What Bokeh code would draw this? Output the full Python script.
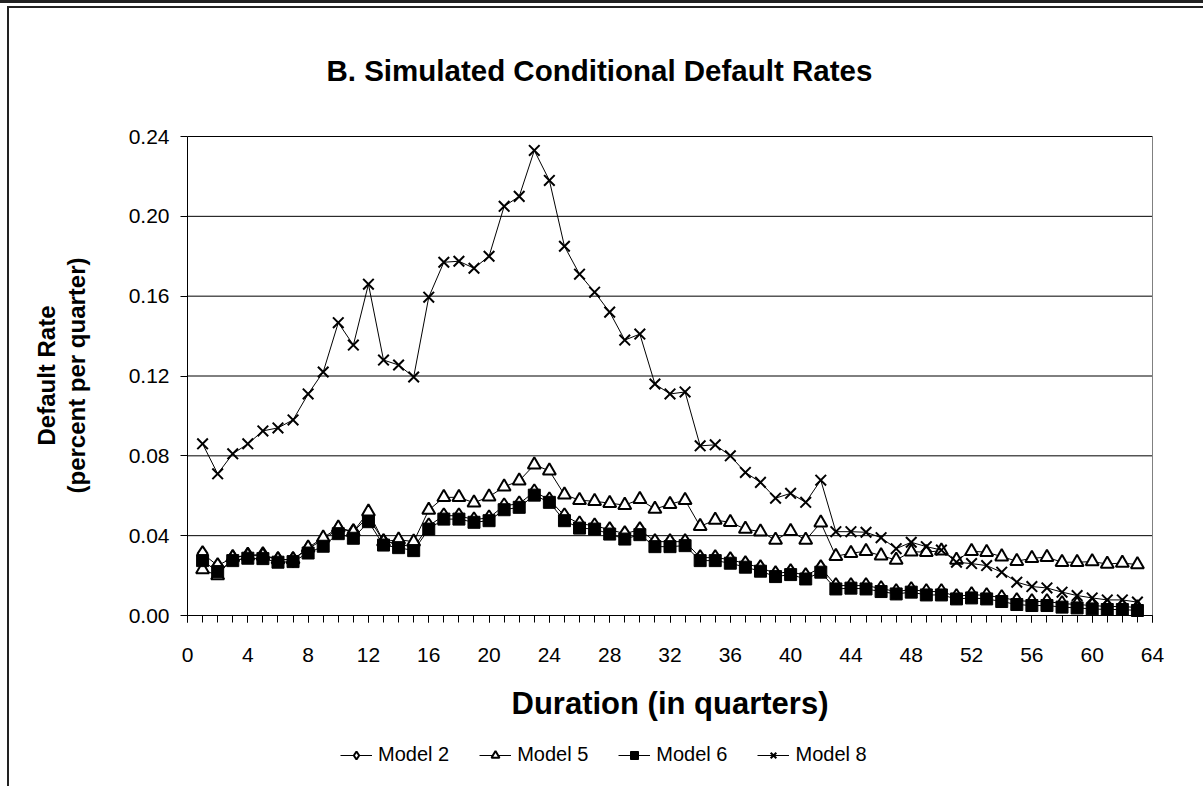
import math
from bokeh.plotting import figure
from bokeh.models import Range1d, FixedTicker, NumeralTickFormatter, Legend, LegendItem, Label
from bokeh.embed import file_html
from bokeh.resources import INLINE

duration = list(range(1, 64))

model2 = [0.031, 0.025, 0.029, 0.0303, 0.0305, 0.028, 0.028, 0.0335, 0.038, 0.0435,
          0.042, 0.0495, 0.037, 0.036, 0.034, 0.045, 0.050, 0.050, 0.048, 0.049,
          0.055, 0.056, 0.062, 0.058, 0.050, 0.046, 0.045, 0.043, 0.041, 0.043,
          0.037, 0.037, 0.037, 0.029, 0.029, 0.028, 0.026, 0.024, 0.021, 0.022,
          0.020, 0.024, 0.015, 0.015, 0.015, 0.0135, 0.012, 0.013, 0.012, 0.012,
          0.0095, 0.0105, 0.010, 0.009, 0.0075, 0.007, 0.007, 0.006, 0.0055, 0.005,
          0.0045, 0.0045, 0.004]

model5 = [0.023, 0.020, 0.029, 0.030, 0.030, 0.028, 0.028, 0.034, 0.039, 0.044,
          0.042, 0.052, 0.037, 0.038, 0.037, 0.0528, 0.0592, 0.0592, 0.0565, 0.0595,
          0.0645, 0.0675, 0.0755, 0.0725, 0.0605, 0.0578, 0.0572, 0.0563, 0.0553, 0.0582,
          0.0533, 0.0558, 0.0578, 0.0447, 0.0478, 0.0467, 0.0433, 0.0420, 0.0378, 0.0422,
          0.0378, 0.0465, 0.0297, 0.0312, 0.0322, 0.030, 0.0278, 0.032, 0.0317, 0.0325,
          0.0278, 0.0322, 0.0317, 0.0295, 0.0272, 0.0287, 0.0292, 0.0267, 0.0267, 0.027,
          0.0258, 0.0263, 0.0255]

model6 = [0.0275, 0.022, 0.0275, 0.0287, 0.0285, 0.0267, 0.027, 0.0313, 0.0347, 0.041,
          0.0387, 0.047, 0.0353, 0.034, 0.0325, 0.0433, 0.0483, 0.0483, 0.0467, 0.0475,
          0.053, 0.0542, 0.0603, 0.0567, 0.0475, 0.0438, 0.0433, 0.0408, 0.0383, 0.0405,
          0.0345, 0.0345, 0.035, 0.0275, 0.0275, 0.0262, 0.0242, 0.0222, 0.0195, 0.0205,
          0.0183, 0.0217, 0.0133, 0.0137, 0.0133, 0.012, 0.0108, 0.0117, 0.0103, 0.0103,
          0.0083, 0.0088, 0.0083, 0.007, 0.0055, 0.005, 0.005, 0.0042, 0.0038, 0.0033,
          0.003, 0.003, 0.0025]

model8 = [0.086, 0.071, 0.081, 0.086, 0.0925, 0.094, 0.098, 0.111, 0.122, 0.1467,
          0.1355, 0.166, 0.128, 0.1255, 0.1195, 0.1595, 0.177, 0.1775, 0.174, 0.180,
          0.205, 0.210, 0.233, 0.218, 0.185, 0.171, 0.162, 0.152, 0.138, 0.141,
          0.116, 0.111, 0.112, 0.085, 0.0855, 0.080, 0.0717, 0.0667, 0.0588, 0.0612,
          0.0567, 0.0678, 0.042, 0.042, 0.0417, 0.039, 0.0335, 0.0367, 0.0345, 0.0328,
          0.0267, 0.026, 0.025, 0.0217, 0.0167, 0.0145, 0.0138, 0.0117, 0.010, 0.0088,
          0.0078, 0.0078, 0.0067]

y_ticks = [0.0, 0.04, 0.08, 0.12, 0.16, 0.20, 0.24]
x_ticks = list(range(0, 65, 4))
x_minor = list(range(0, 65))
X_MAX = 64
Y_MAX = 0.24

FONT = "Liberation Sans"

# layout in pixels: plot area x 187..1152, y 136 (0.24) .. 615 (0.00)
W, H = 1203, 786
FRAME_TOP = 98
TOP, ZERO, LEFT, RIGHT = 136, 615, 187, 1152
px_y = (ZERO - TOP) / Y_MAX
px_x = (RIGHT - LEFT) / X_MAX
y_lo = -(H - ZERO) / px_y
y_hi = Y_MAX + (TOP - FRAME_TOP) / px_y
x_lo = -LEFT / px_x
x_hi = X_MAX + (W - RIGHT) / px_x

p = figure(width=W, height=H, output_backend="svg", toolbar_location=None,
           x_range=Range1d(x_lo, x_hi), y_range=Range1d(y_lo, y_hi),
           min_border_left=0, min_border_right=0, min_border_top=FRAME_TOP,
           min_border_bottom=0,
           title="B. Simulated Conditional Default Rates")
p.border_fill_color = None
p.background_fill_color = None
p.styles = {
    "background": ("linear-gradient(#222,#222) 0 0 / 100% 3px no-repeat, "
                   "linear-gradient(#222,#222) 8px 6px / 100% 2px no-repeat, "
                   "linear-gradient(#222,#222) 7px 6px / 2px 100% no-repeat, #ffffff"),
}

p.title.align = "left"
p.title.offset = 326
p.title.text_font = FONT
p.title.text_font_size = "29.5px"
p.title.text_font_style = "bold"
p.title.text_color = "black"
p.title.standoff = 24

p.outline_line_color = None
p.grid.grid_line_color = None

p.yaxis.ticker = FixedTicker(ticks=y_ticks)
p.yaxis.formatter = NumeralTickFormatter(format="0.00")
p.yaxis.bounds = (0, Y_MAX)
p.yaxis.fixed_location = 0
p.xaxis.ticker = FixedTicker(ticks=x_ticks, minor_ticks=x_minor)
p.xaxis.bounds = (0, X_MAX)
p.xaxis.fixed_location = 0
p.xaxis.axis_label = "Duration (in quarters)"

for ax in (p.xaxis[0], p.yaxis[0]):
    ax.axis_line_color = "black"
    ax.major_tick_line_color = "black"
    ax.minor_tick_line_color = "black"
    ax.major_tick_in = 0
    ax.major_tick_out = 7
    ax.minor_tick_in = 0
    ax.minor_tick_out = 7
    ax.major_label_text_font = FONT
    ax.major_label_text_font_size = "21px"
    ax.major_label_text_color = "black"
    ax.axis_label_text_font = FONT
    ax.axis_label_text_font_style = "bold"
    ax.axis_label_text_color = "black"

p.xaxis.axis_label_text_font_size = "31px"
p.yaxis.minor_tick_line_color = None
p.yaxis.major_label_standoff = 11
p.xaxis.major_label_standoff = 25
p.xaxis.axis_label_standoff = 21

# horizontal gridlines across the plot area and its right border
grid_y = y_ticks[1:]
p.segment(x0=[0] * len(grid_y), y0=grid_y, x1=[X_MAX] * len(grid_y), y1=grid_y,
          line_color="black", line_width=1)
p.line([X_MAX, X_MAX], [0, Y_MAX], line_color="#808080", line_width=1)

# y axis title (two lines, rotated)
p.add_layout(Label(x=61, y=H - 375, x_units="screen", y_units="screen",
                   text="Default Rate\n(percent per quarter)", angle=math.pi / 2,
                   text_align="center", text_baseline="middle",
                   text_font=FONT, text_font_size="24px", text_font_style="bold",
                   text_color="black", text_line_height=1.1))

items = []
specs = [
    ("Model 2", model2, dict(marker="diamond", size=15, fill_color="white", line_color="black", line_width=2)),
    ("Model 5", model5, dict(marker="triangle", size=13, fill_color="white", line_color="black", line_width=2)),
    ("Model 6", model6, dict(marker="square", size=12, fill_color="black", line_color="black", line_width=1)),
    ("Model 8", model8, dict(marker="x", size=15, line_color="black", line_width=2)),
]
for name, vals, mk in specs:
    ln = p.line(duration, vals, line_color="black", line_width=1)
    sc = p.scatter(duration, vals, **mk)
    items.append(LegendItem(label=name, renderers=[ln, sc]))

legend = Legend(items=items, orientation="horizontal", location=(340, 20),
                label_text_font=FONT, label_text_font_size="20px", label_text_color="black",
                glyph_width=32, glyph_height=20, spacing=30, label_standoff=6,
                border_line_color=None, background_fill_alpha=0,
                margin=0, padding=0)
p.add_layout(legend)

open("out.html", "w").write(file_html(p, INLINE))
